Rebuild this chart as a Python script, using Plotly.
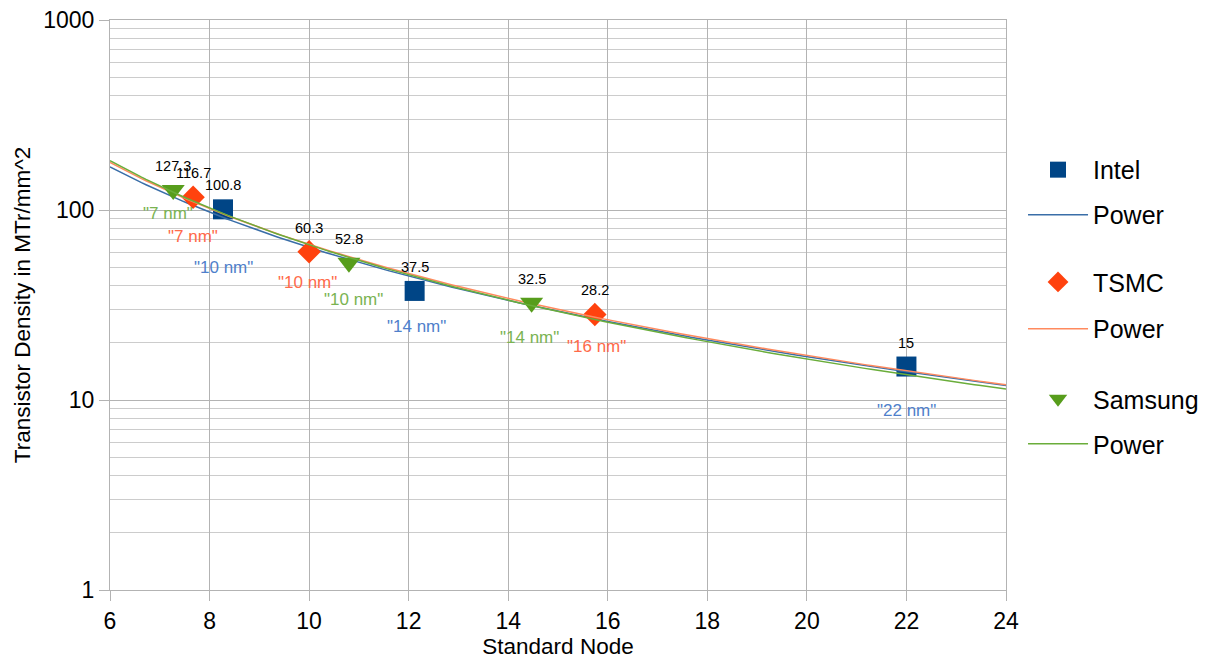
import numpy as np
import plotly.graph_objects as go

# ---- data ----
intel_x = [8.27, 12.12, 22.0]
intel_y = [100.8, 37.5, 15.0]
intel_nodes = ["10 nm", "14 nm", "22 nm"]

tsmc_x = [7.67, 10.0, 15.74]
tsmc_y = [116.7, 60.3, 28.2]
tsmc_nodes = ["7 nm", "10 nm", "16 nm"]

samsung_x = [7.27, 10.8, 14.47]
samsung_y = [127.3, 52.8, 32.5]
samsung_nodes = ["7 nm", "10 nm", "14 nm"]

x_ticks = [6, 8, 10, 12, 14, 16, 18, 20, 22, 24]
y_ticks = [1, 10, 100, 1000]
y_tick_labels = ["1", "10", "100", "1000"]

# ---- styles ----
series = [
    dict(name="Intel", x=intel_x, y=intel_y, nodes=intel_nodes, symbol="square", size=20,
         mcolor="#004586", lcolor="#3a6ea8", tcolor="#4f7fcb", leg=("legend2", "legend3"),
         nm_shift=[-58, -36, -44], nm_dx=[0, 2, 0]),
    dict(name="TSMC", x=tsmc_x, y=tsmc_y, nodes=tsmc_nodes, symbol="diamond", size=18,
         mcolor="#ff420e", lcolor="#ff8a5e", tcolor="#ff6a4a", leg=("legend4", "legend5"),
         nm_shift=[-39, -31, -32], nm_dx=[0, -2, 2]),
    dict(name="Samsung", x=samsung_x, y=samsung_y, nodes=samsung_nodes, symbol="triangle-down", size=20,
         mcolor="#579d1c", lcolor="#6aad3a", tcolor="#7ab352", leg=("legend6", "legend7"),
         nm_shift=[-23, -37, -35], nm_dx=[-5, 5, -2]),
]
legend_y = [0.737, 0.658, 0.540, 0.458, 0.335, 0.256]

fig = go.Figure()
annotations = []
xfit = np.linspace(6, 24, 200)
for s in series:
    fig.add_trace(go.Scatter(
        x=s["x"], y=s["y"], mode="markers", name=s["name"], legend=s["leg"][0],
        marker=dict(symbol=s["symbol"], size=s["size"], color=s["mcolor"]),
    ))
    b, a = np.polyfit(np.log(s["x"]), np.log(s["y"]), 1)
    fig.add_trace(go.Scatter(
        x=xfit, y=np.exp(a) * xfit ** b, mode="lines", name="Power", legend=s["leg"][1],
        line=dict(color=s["lcolor"], width=1.5),
    ))
    for xv, yv, nd, sh, dx in zip(s["x"], s["y"], s["nodes"], s["nm_shift"], s["nm_dx"]):
        annotations.append(dict(x=xv, y=np.log10(yv), text=f"{yv:g}", showarrow=False,
                                yshift=24, font=dict(size=14.5, color="#000000")))
        annotations.append(dict(x=xv, y=np.log10(yv), text=f'"{nd}"', showarrow=False,
                                yshift=sh, xshift=dx, font=dict(size=17, color=s["tcolor"])))

minor_vals = [m * 10 ** e for e in range(0, 3) for m in range(2, 10)]

legends = {}
for i, ly in enumerate(legend_y):
    legends[f"legend{i + 2}"] = dict(x=1.019, y=ly, xanchor="left", yanchor="middle",
                                     font=dict(size=25, color="#000000"),
                                     bgcolor="rgba(0,0,0,0)", itemwidth=60)

fig.update_layout(
    width=1200, height=652,
    margin=dict(l=102, r=202, t=12, b=70, autoexpand=False),
    paper_bgcolor="white", plot_bgcolor="white",
    font=dict(family="Liberation Sans, Arial, sans-serif", color="#000000"),
    annotations=annotations,
    showlegend=True,
    xaxis=dict(range=[6, 24], tickvals=x_ticks, showgrid=True, gridcolor="#b3b3b3",
               gridwidth=1, showline=True, mirror=True, linecolor="#b3b3b3", ticks="outside",
               ticklen=10, tickcolor="#b3b3b3", tickfont=dict(size=23), zeroline=False,
               automargin=False, ticklabeloverflow="allow",
               title=dict(text="Standard Node", font=dict(size=22.5), standoff=2)),
    yaxis=dict(type="log", range=[0, 3], tickvals=y_ticks, ticktext=y_tick_labels,
               showgrid=True, gridcolor="#b3b3b3", gridwidth=1, showline=True, mirror=True,
               linecolor="#b3b3b3", ticks="outside", ticklen=10, tickcolor="#b3b3b3",
               tickfont=dict(size=23), zeroline=False, automargin=False,
               ticklabeloverflow="allow",
               minor=dict(tickvals=minor_vals, showgrid=True, gridcolor="#cccccc", ticks=""),
               title=dict(text="Transistor Density in MTr/mm^2", font=dict(size=22.5), standoff=6)),
    **legends,
)

fig.write_html("out.html")
